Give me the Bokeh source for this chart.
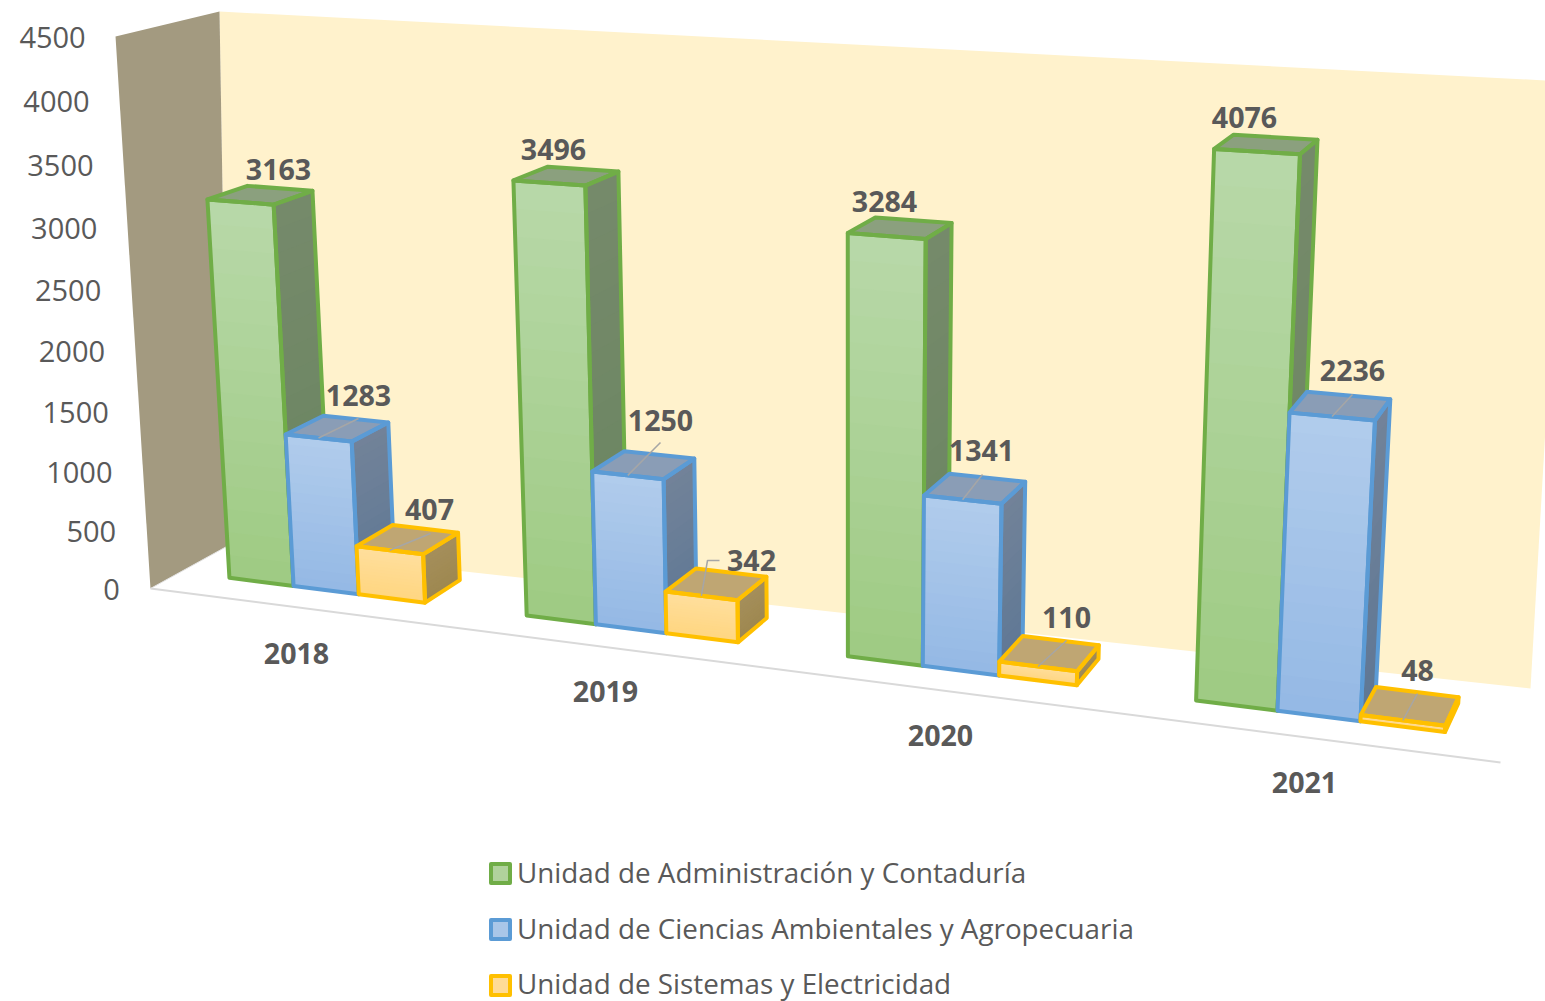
import numpy as np
from bokeh.plotting import figure
from bokeh.models import ColumnDataSource
from bokeh.core.properties import value
from bokeh.embed import file_html
from bokeh.resources import INLINE

# ---------- data ----------
years = ["2018", "2019", "2020", "2021"]
series_names = ["Unidad de Administración y Contaduría",
                "Unidad de Ciencias Ambientales y Agropecuaria",
                "Unidad de Sistemas y Electricidad"]
administracion = [3163, 3496, 3284, 4076]
ambientales = [1283, 1250, 1341, 2236]
sistemas = [407, 342, 110, 48]
value_ticks = [0, 500, 1000, 1500, 2000, 2500, 3000, 3500, 4000, 4500]

# ---------- styles ----------
line_cols = ["#70AD47", "#5B9BD5", "#FFC000"]
front_top = ["#B9D9AA", "#B2CDEC", "#FFDF9E"]
front_bot = ["#9FCB84", "#95B9E5", "#FFD681"]
side_top = ["#768A6B", "#738399", "#A58F5C"]
side_bot = ["#6A8560", "#5F7895", "#9E8850"]
top_col = ["#8BA07E", "#8A9DB6", "#BFA673"]
legend_fill = ["#B0D29C", "#A9C6E8", "#FFDB96"]
TXT = "#595959"

# ---------- layout: pixel frame of the picture and the 3-D cameras ----------
W, H = 1545, 1001
BAR_W = 2 / 9
GAP = 1 / 6
D0, D1 = 0.3, 0.7
U = [GAP + i * BAR_W for i in range(4)]
# calibration (category position, value, depth) -> picture position
left_calib = [((0, 0, 0), (150, 588)), ((0, 4500, 0), (115, 36)), ((0, 4500, 1), (219, 11)),
              ((0, 0, 1), (228, 545))]
back_calib = [((0, 0, 1), (228, 545)), ((0, 4500, 1), (219, 11)), ((4, 4500, 1), (1565, 81)),
              ((4, 0, 1), (1530, 688))]
floor_calib = [((0, 0, 0), (150, 588)), ((0, 0, 1), (228, 545)), ((4, 0, 1), (1530, 688)),
               ((4, 0, 0), (1500, 762))]
tick_calib = [((0, 0, 0), (119, 589.5)), ((0, 2000, 0), (105, 351)), ((0, 4500, 0), (85, 37))]
bar_calib = [((U[0], 0, D0), (228, 577)), ((U[0], 3163, D0), (206, 198)), ((U[1], 3163, D0), (274, 204)),
             ((U[1], 3163, D1), (312, 190)), ((U[1], 1283, D0), (285, 435)), ((U[2], 1283, D0), (352, 441)),
             ((U[2], 1283, D1), (388, 423)), ((U[2], 407, D0), (356, 547)), ((U[3], 407, D0), (424, 553)),
             ((U[3], 407, D1), (458, 533)), ((U[3], 0, D0), (425, 602)), ((U[3], 0, D1), (459, 578)),
             ((1 + U[0], 0, D0), (525, 615)), ((1 + U[0], 3496, D0), (512, 180)),
             ((1 + U[1], 3496, D0), (586, 186)), ((1 + U[1], 3496, D1), (618, 171)),
             ((1 + U[3], 0, D0), (738, 641)), ((1 + U[3], 0, D1), (766, 618)),
             ((2 + U[0], 0, D0), (846, 656)), ((2 + U[0], 3284, D0), (847, 232)),
             ((2 + U[1], 3284, D0), (925, 239)), ((2 + U[1], 3284, D1), (951, 223)),
             ((2 + U[3], 0, D0), (1078, 685)), ((2 + U[3], 110, D1), (1098, 645)),
             ((3 + U[0], 0, D0), (1195, 700)), ((3 + U[0], 4076, D0), (1213, 148)),
             ((3 + U[1], 4076, D0), (1300, 154)), ((3 + U[1], 4076, D1), (1317, 139)),
             ((3 + U[1], 2236, D0), (1289, 412)), ((3 + U[2], 2236, D0), (1374, 421)),
             ((3 + U[2], 2236, D1), (1390, 398)), ((3 + U[3], 0, D0), (1445, 731)),
             ((3 + U[3], 48, D1), (1458, 697))]


def fit_camera(calib):
    A, b = [], []
    for (u, v, d), (x, y) in calib:
        v = v / 1000
        A.append([u, v, d, 1, 0, 0, 0, 0, -x * u, -x * v, -x * d]); b.append(x)
        A.append([0, 0, 0, 0, u, v, d, 1, -y * u, -y * v, -y * d]); b.append(y)
    return np.linalg.lstsq(np.array(A, float), np.array(b, float), rcond=None)[0]


left_cam = fit_camera(left_calib)
back_cam = fit_camera(back_calib)
floor_cam = fit_camera(floor_calib)
bar_cam = fit_camera(bar_calib)
tick_cam = fit_camera(tick_calib)


def proj(u, v, d, m=bar_cam):
    v = v / 1000
    w = m[8] * u + m[9] * v + m[10] * d + 1
    return ((m[0] * u + m[1] * v + m[2] * d + m[3]) / w,
            (m[4] * u + m[5] * v + m[6] * d + m[7]) / w)


def poly(pts, m=bar_cam):
    q = [proj(*t, m) for t in pts]
    return [a for a, _ in q], [c for _, c in q]


def mix(c1, c2, t):
    a = [int(c1[i:i + 2], 16) for i in (1, 3, 5)]
    c = [int(c2[i:i + 2], 16) for i in (1, 3, 5)]
    return "#%02x%02x%02x" % tuple(round(a[i] + (c[i] - a[i]) * t) for i in range(3))


p = figure(width=W, height=H, x_range=(0, W), y_range=(H, 0), toolbar_location=None,
           output_backend="svg", x_axis_location=None, y_axis_location=None, min_border=0,
           outline_line_color=None, background_fill_color="white", border_fill_color="white")
p.grid.visible = False

# walls
xs, ys = poly([(0, 0, 1), (0, 4500, 1), (4, 4500, 1), (4, 0, 1)], back_cam)
p.patch(xs, ys, fill_color="#FFF2CC", line_color=None)
xs, ys = poly([(0, 0, 0), (0, 4500, 0), (0, 4500, 1), (0, 0, 1)], left_cam)
p.patch(xs, ys, fill_color="#A39A80", line_color=None)
xs, ys = poly([(0, 0, 0), (4, 0, 0)], floor_cam)
p.line(xs, ys, line_color="#D9D9D9", line_width=2)
xs, ys = poly([(0, 0, 0), (0, 0, 1)], floor_cam)
p.line(xs, ys, line_color="#E4E4E4", line_width=1)

# bars
N = 16
all_values = [administracion, ambientales, sistemas]
for c in range(len(years)):
    for s, vals in enumerate(all_values):
        val = vals[c]
        u0 = c + GAP + s * BAR_W
        u1 = u0 + BAR_W
        gx, gy, gc = [], [], []
        for i in range(N):
            t = i / N
            lo = val * t
            for (a, e), ct, cb in (
                    (((u1, D0), (u1, D1)), side_top[s], side_bot[s]),
                    (((u0, D0), (u1, D0)), front_top[s], front_bot[s])):
                xs, ys = poly([(a[0], lo, a[1]), (a[0], val, a[1]), (e[0], val, e[1]), (e[0], lo, e[1])])
                gx.append(xs); gy.append(ys); gc.append(mix(cb, ct, t))
        # side slices first, then front slices
        order = list(range(0, len(gx), 2)) + list(range(1, len(gx), 2))
        src = ColumnDataSource(dict(xs=[gx[i] for i in order], ys=[gy[i] for i in order],
                                    c=[gc[i] for i in order]))
        p.patches("xs", "ys", source=src, fill_color="c", line_color=None)
        tx, ty = poly([(u0, val, D0), (u0, val, D1), (u1, val, D1), (u1, val, D0)])
        p.patch(tx, ty, fill_color=top_col[s], line_color=None)
        faces = [[(u1, 0, D0), (u1, 0, D1), (u1, val, D1), (u1, val, D0)],
                 [(u0, val, D0), (u0, val, D1), (u1, val, D1), (u1, val, D0)],
                 [(u0, 0, D0), (u0, val, D0), (u1, val, D0), (u1, 0, D0)]]
        for f in faces:
            xs, ys = poly(f)
            p.patch(xs, ys, fill_color=None, fill_alpha=0, line_color=line_cols[s], line_width=4,
                    line_join="round")

# leader lines: from the front-edge middle of a bar top to the point next to its label
leader_s = [1, 2, 1, 2, 1, 2, 1, 2]
leader_c = [0, 0, 1, 1, 2, 2, 3, 3]
leader_end = [[(358, 418)], [(430, 533)], [(660, 442)], [(707, 560), (719, 560)],
              [(982, 474)], [(1066, 640)], [(1352, 394)], [(1417, 693)]]
for s, c, e in zip(leader_s, leader_c, leader_end):
    ax, ay = proj(c + GAP + (s + .5) * BAR_W, all_values[s][c], D0)
    p.line([ax] + [q[0] for q in e], [ay] + [q[1] for q in e], line_color="#A6A6A6", line_width=1.5)

# data labels
label_x = [[278, 553, 884, 1244], [358, 660, 981, 1352], [429, 751, 1066, 1417]]
label_y = [[169, 149, 201, 117], [395, 420, 450, 370], [509, 560, 617, 670]]
for s, vals in enumerate(all_values):
    p.text(label_x[s], label_y[s], text=[str(v) for v in vals], text_align="center",
           text_baseline="middle", text_font=value("Open Sans"), text_font_style="bold",
           text_font_size="28.6px", text_color=TXT)

# value axis labels along the front edge of the left wall
tp = [proj(0, t, 0, tick_cam) for t in value_ticks]
p.text([q[0] for q in tp], [q[1] for q in tp], text=[str(t) for t in value_ticks],
       text_align="right", text_baseline="middle", text_font=value("Open Sans"),
       text_font_size="29px", text_color=TXT)

# category labels
cat_x = [296, 605, 940, 1304]
cat_y = [653, 691, 735, 782]
p.text(cat_x, cat_y, text=years, text_align="center", text_baseline="middle",
       text_font=value("Open Sans"), text_font_style="bold", text_font_size="28.6px", text_color=TXT)

# legend
leg_y = [873, 929, 985]
leg_text_y = [871, 927, 982]
for i, name in enumerate(series_names):
    p.quad(left=[490.5], right=[509.5], top=[leg_y[i] - 9.5], bottom=[leg_y[i] + 9.5], fill_color=legend_fill[i],
           line_color=line_cols[i], line_width=4, line_join="round")
p.text([516.5] * 3, leg_text_y, text=series_names, text_align="left", text_baseline="middle",
       text_font=value("Open Sans"), text_font_size="27.8px", text_color=TXT)

open("out.html", "w").write(file_html(p, INLINE))
